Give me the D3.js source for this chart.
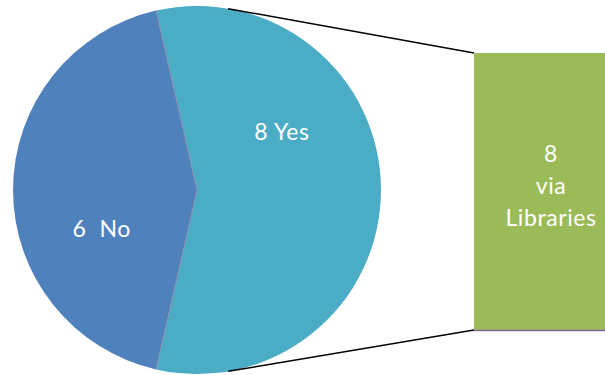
<!DOCTYPE html>
<html>
<head>
<meta charset="utf-8">
<script src="https://cdn.jsdelivr.net/npm/d3@7"></script>
<style>
  body { margin: 0; background: #fff; }
  svg { display: block; }
  text { font-family: Lato, "Open Sans", sans-serif; fill: #fff; letter-spacing: 0.6px; }
</style>
</head>
<body>
<div id="chart-area"></div>
<script>
// Data
const categories = ["Yes", "No"];
const values = [8, 6];
const labels = ["8 Yes", "6\u00a0 No"];
const barSeries = ["via Libraries"];
const barValues = [8];
const barLabel = ["8", "via", "Libraries"];

const width = 605,
  height = 375;

const colors = ["#4BACC6", "#4F81BD"];

const svg = d3
  .select("#chart-area")
  .append("svg")
  .attr("width", width)
  .attr("height", height);

// Pie
const cx = 197,
  cy = 190,
  radius = 184;

const total = d3.sum(values);
const yesSpan = (values[0] / total) * 2 * Math.PI;

const pie = d3
  .pie()
  .sort(null)
  .value(d => d)
  .startAngle(Math.PI / 2 - yesSpan / 2)
  .endAngle(Math.PI / 2 - yesSpan / 2 + 2 * Math.PI);

const arc = d3.arc().innerRadius(0).outerRadius(radius);

const pieG = svg
  .append("g")
  .attr("transform", "translate(" + cx + "," + cy + ")");

const arcs = pie(values);

pieG
  .selectAll("path")
  .data(arcs)
  .enter()
  .append("path")
  .attr("d", arc)
  .attr("fill", (d, i) => colors[i]);

// thin divider between slices
pieG
  .selectAll("line.divider")
  .data(arcs)
  .enter()
  .append("line")
  .attr("class", "divider")
  .attr("x1", 0)
  .attr("y1", 0)
  .attr("x2", d => Math.sin(d.startAngle) * radius)
  .attr("y2", d => -Math.cos(d.startAngle) * radius)
  .attr("stroke", "#a87f95")
  .attr("stroke-width", 0.6);

// label positions: angle offset from slice centre, distance from pie centre
const labelOffset = [-0.6, -0.39];
const labelDist = [103, 103];

pieG
  .selectAll("text.slice")
  .data(arcs)
  .enter()
  .append("text")
  .attr("class", "slice")
  .attr("text-anchor", "middle")
  .attr("font-size", "23px")
  .attr("x", (d, i) => {
    const a = (d.startAngle + d.endAngle) / 2 + labelOffset[i];
    return Math.sin(a) * labelDist[i];
  })
  .attr("y", (d, i) => {
    const a = (d.startAngle + d.endAngle) / 2 + labelOffset[i];
    return -Math.cos(a) * labelDist[i] + 8;
  })
  .text((d, i) => labels[i]);

// Bar
const barX = 474,
  barW = 152;

const yScale = d3
  .scaleLinear()
  .domain([0, d3.sum(barValues)])
  .range([330, 53]);

svg
  .selectAll("rect.bar")
  .data(barValues)
  .enter()
  .append("rect")
  .attr("class", "bar")
  .attr("x", barX)
  .attr("y", d => yScale(d))
  .attr("width", barW)
  .attr("height", d => yScale(0) - yScale(d))
  .attr("fill", "#9BBB59");

svg
  .append("line")
  .attr("x1", barX)
  .attr("x2", barX + barW)
  .attr("y1", yScale(0) + 0.5)
  .attr("y2", yScale(0) + 0.5)
  .attr("stroke", "#8064A2")
  .attr("stroke-width", 1.5);

const barMid = (yScale(0) + yScale(barValues[0])) / 2;

svg
  .selectAll("text.barlabel")
  .data(barLabel)
  .enter()
  .append("text")
  .attr("class", "barlabel")
  .attr("text-anchor", "middle")
  .attr("font-size", "23px")
  .attr("x", barX + barW / 2 + 1)
  .attr("y", (d, i) => barMid + (i - 1) * 32 + 2.5)
  .text(d => d);

// Connector lines
const conAngles = [0.17, Math.PI - 0.17];
const conEnds = [yScale(barValues[0]), yScale(0)];

svg
  .selectAll("line.connector")
  .data(conAngles)
  .enter()
  .append("line")
  .attr("class", "connector")
  .attr("x1", d => cx + Math.sin(d) * radius)
  .attr("y1", d => cy - Math.cos(d) * radius)
  .attr("x2", barX)
  .attr("y2", (d, i) => conEnds[i])
  .attr("stroke", "#000")
  .attr("stroke-width", 1.5);
</script>
</body>
</html>
